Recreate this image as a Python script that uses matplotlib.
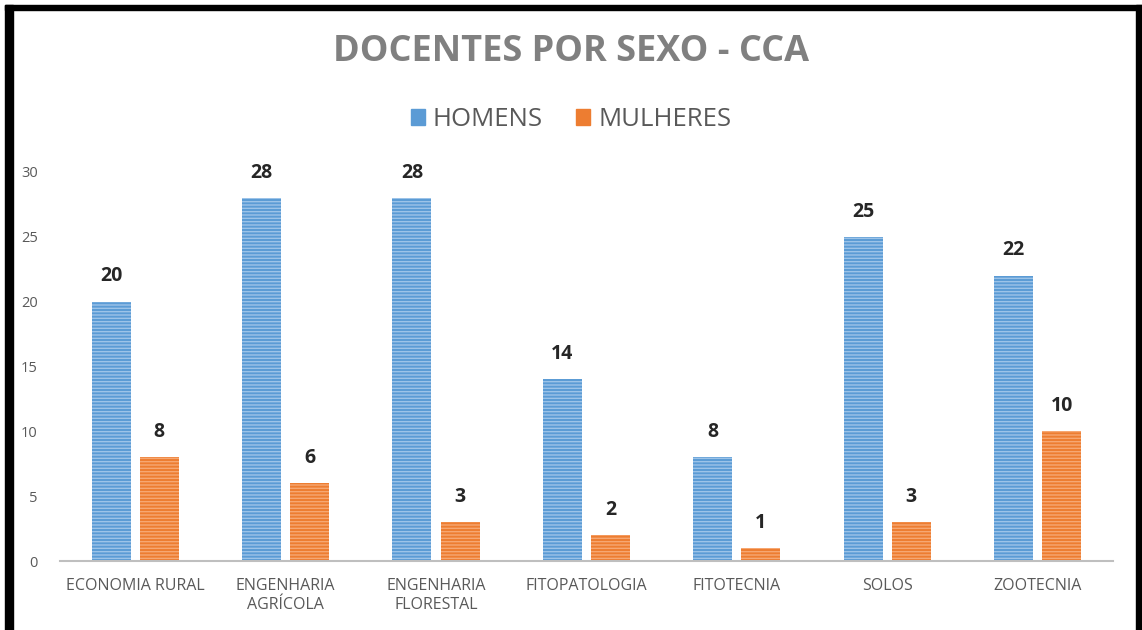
import matplotlib.pyplot as plt
import matplotlib.patches as mpatches
import numpy as np

categories = ['ECONOMIA RURAL', 'ENGENHARIA\nAGRÍCOLA', 'ENGENHARIA\nFLORESTAL',
              'FITOPATOLOGIA', 'FITOTECNIA', 'SOLOS', 'ZOOTECNIA']
homens = [20, 28, 28, 14, 8, 25, 22]
mulheres = [8, 6, 3, 2, 1, 3, 10]
yticks = [0, 5, 10, 15, 20, 25, 30]

plt.rcParams['font.family'] = ['Open Sans', 'DejaVu Sans']
plt.rcParams['hatch.linewidth'] = 1.0

fig = plt.figure(figsize=(11.42, 6.30), dpi=100)
ax = fig.add_axes([0.0525, 0.1095, 0.922, 0.6175])

x = np.arange(len(categories))
w = 0.26
b1 = ax.bar(x - 0.16, homens, w, color='#5b9bd5', edgecolor='#9cc3e8',
            linewidth=0, hatch='-----', label='HOMENS')
b2 = ax.bar(x + 0.16, mulheres, w, color='#ed7d31', edgecolor='#f6a772',
            linewidth=0, hatch='-----', label='MULHERES')

for bars, vals in ((b1, homens), (b2, mulheres)):
    for r, v in zip(bars, vals):
        ax.annotate(str(v), (r.get_x() + r.get_width() / 2, v),
                    xytext=(0, 11), textcoords='offset points',
                    ha='center', va='bottom', fontsize=14, fontweight='bold',
                    color='#262626')

ax.set_xlim(-0.5, len(categories) - 0.5)
ax.set_ylim(0, 30)
ax.set_yticks(yticks)
ax.set_xticks(x)
ax.set_xticklabels(categories, linespacing=1.25)
ax.tick_params(axis='both', length=0, colors='#595959')
ax.tick_params(axis='y', pad=16, labelsize=10.5)
ax.tick_params(axis='x', pad=12, labelsize=11.5)
for s in ['top', 'right', 'left']:
    ax.spines[s].set_visible(False)
ax.spines['bottom'].set_color('#bfbfbf')
ax.spines['bottom'].set_linewidth(1.5)

fig.text(0.5, 0.918, 'DOCENTES POR SEXO - CCA', ha='center', va='center',
         fontsize=26, fontweight='bold', color='#808080')
fig.legend(handles=[mpatches.Patch(color='#5b9bd5', label='HOMENS'),
                    mpatches.Patch(color='#ed7d31', label='MULHERES')],
           loc='center', bbox_to_anchor=(0.5, 0.81), ncol=2, frameon=False,
           fontsize=18.5, handlelength=0.55, handleheight=0.55, handletextpad=0.3,
           columnspacing=1.3, labelcolor='#595959')

# black frame around the picture
for rx, ry, rw, rh in [(5, 0, 8, 625), (5, 620, 1137, 5), (1136, 0, 6, 625)]:
    fig.patches.append(mpatches.Rectangle((rx / 1142, ry / 630), rw / 1142, rh / 630,
                                          transform=fig.transFigure, color='black'))

fig.savefig('out.png', dpi=100)
